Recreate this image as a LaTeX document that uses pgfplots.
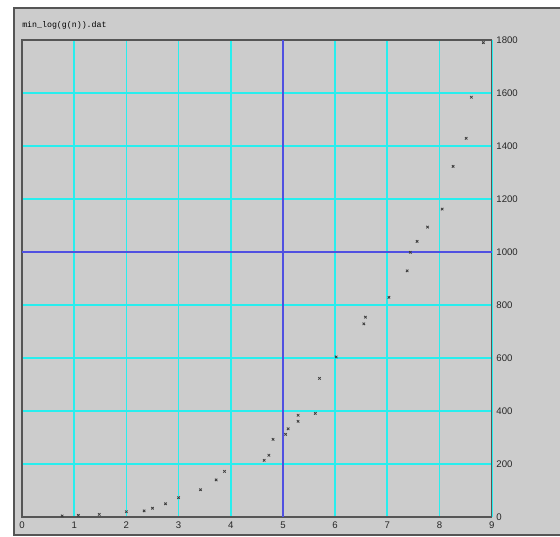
\documentclass[border=0pt]{standalone}
\usepackage{fontspec}
\setmainfont{Liberation Sans}
\newfontfamily\monof{Liberation Mono}
\usepackage{pgfplots}
\pgfplotsset{compat=1.18}
\definecolor{bgray}{RGB}{204,204,204}
\definecolor{gcyan}{RGB}{40,238,238}
\definecolor{gblue}{RGB}{80,80,225}
\definecolor{frame}{RGB}{85,85,85}
\definecolor{markc}{RGB}{60,60,60}
\begin{document}
\begin{tikzpicture}[x=0.75pt,y=0.75pt]
\useasboundingbox (0,0) rectangle (560,536);
\fill[white] (0,0) rectangle (560,536);
\fill[bgray] (14,1) rectangle (563,528);
\draw[frame,line width=1.4pt] (563,1) -- (14,1) -- (14,528) -- (563,528);
\node[anchor=west,inner sep=0pt,font=\monof\fontsize{6.2}{7}\selectfont] at (22,511) {min\_log(g(n)).dat};
\begin{axis}[
  at={(16.5pt,14.25pt)}, anchor=south west,
  scale only axis, width=352.3pt, height=357.75pt,
  xmin=0, xmax=9, ymin=0, ymax=1800,
  xtick={0,1,...,9}, ytick={0,200,...,1800},
  yticklabel pos=right,
  major tick length=0pt,
  grid=major,
  major grid style={gcyan, line width=1.3pt},
  extra x ticks={5}, extra y ticks={1000},
  extra x tick labels={}, extra y tick labels={},
  extra tick style={major grid style={gblue, line width=1.3pt}},
  axis line style={frame, line width=0.9pt},
  /pgf/number format/assume math mode=true,
  /pgf/number format/1000 sep={},
  ticklabel style={font=\fontsize{7.2}{8}\selectfont, text=black!85},
  yticklabel style={anchor=west, xshift=0pt},
  clip=false,
]
\addplot[only marks, mark=x, mark size=1.3pt, markc, mark options={line width=0.6pt}] coordinates {
(0.77,4) (1.08,6) (1.48,10) (2.00,20) (2.34,23) (2.50,33) (2.75,50) (3.00,73)
(3.42,103) (3.72,140) (3.88,172) (4.64,214) (4.73,233) (4.81,293) (5.05,312)
(5.10,333) (5.29,361) (5.29,384) (5.62,391) (5.70,523) (6.02,604) (6.55,729)
(6.58,754) (7.03,829) (7.38,929) (7.44,999) (7.57,1040) (7.77,1094) (8.05,1162)
(8.26,1323) (8.51,1429) (8.61,1584) (8.84,1790)
};
\end{axis}
\end{tikzpicture}
\end{document}
